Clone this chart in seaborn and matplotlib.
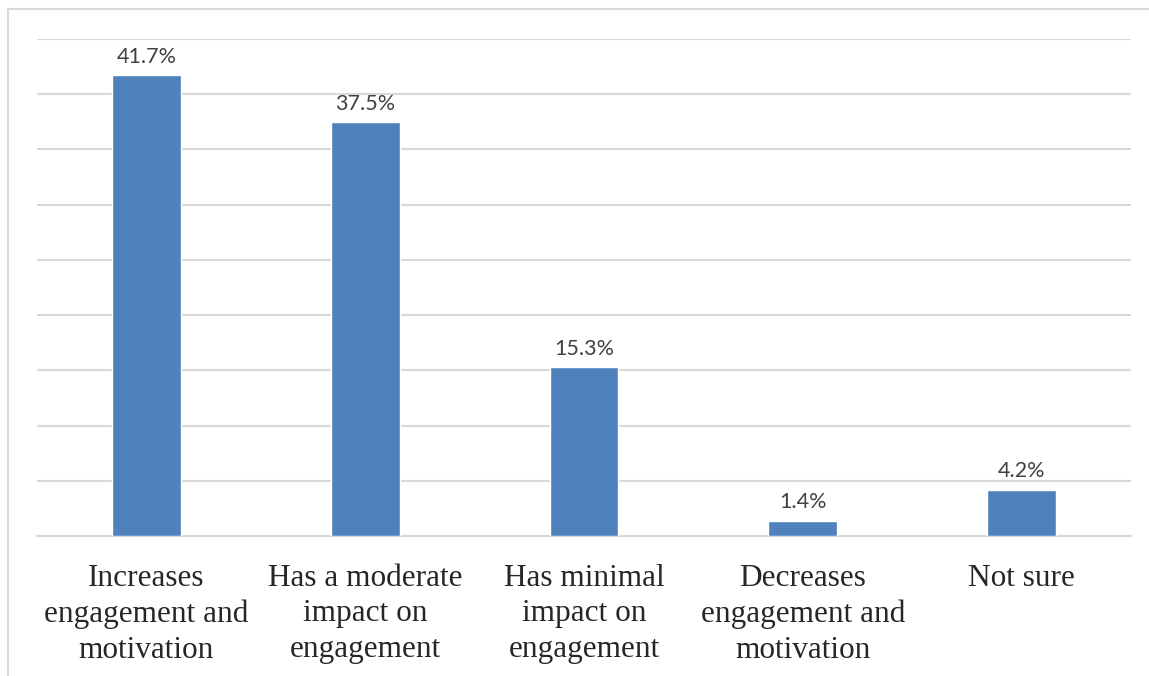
import seaborn as sns
import matplotlib.pyplot as plt
from matplotlib.lines import Line2D
import pandas as pd

# data
categories = [
    "Increases\nengagement and\nmotivation",
    "Has a moderate\nimpact on\nengagement",
    "Has minimal\nimpact on\nengagement",
    "Decreases\nengagement and\nmotivation",
    "Not sure",
]
values = [41.7, 37.5, 15.3, 1.4, 4.2]
gridlines = [0, 5, 10, 15, 20, 25, 30, 35, 40, 45]

df = pd.DataFrame({"category": categories, "value": values})

sns.set_style("white")
fig = plt.figure(figsize=(11.49, 6.76), dpi=100)
ax = fig.add_axes([0.0322, 0.2071, 0.9521, 0.7352])

sns.barplot(data=df, x="category", y="value", color="#4F81BD", width=0.315,
            saturation=1, ax=ax, zorder=3)

ax.set_ylim(0, 45)
ax.set_xlim(-0.5, 4.5)
ax.set_yticks(gridlines)
ax.set_yticklabels([])
ax.tick_params(axis="y", length=0)
ax.grid(axis="y", color="#D9D9D9", linewidth=1.5, zorder=0)
ax.set_axisbelow(True)
for s in ["top", "left", "right"]:
    ax.spines[s].set_visible(False)
ax.spines["bottom"].set_color("#D9D9D9")
ax.spines["bottom"].set_linewidth(1.5)

ax.set_xlabel("")
ax.set_ylabel("")
ax.tick_params(axis="x", length=0, pad=20)
for lbl in ax.get_xticklabels():
    lbl.set_fontfamily("Liberation Serif")
    lbl.set_fontsize(22.5)
    lbl.set_linespacing(1.3)
    lbl.set_verticalalignment("top")

# value labels
for i, v in enumerate(values):
    ax.annotate(f"{v}%", (i, v), xytext=(0, 6), textcoords="offset points",
                ha="center", va="bottom", fontsize=15.5, color="#404040",
                family="Lato")

# outer chart frame (cropped: only top and left edges visible)
fig.add_artist(Line2D([8 / 1149, 1.0], [1 - 9 / 676, 1 - 9 / 676],
                      transform=fig.transFigure, color="#D9D9D9", linewidth=1.5))
fig.add_artist(Line2D([8 / 1149, 8 / 1149], [0.0, 1 - 9 / 676],
                      transform=fig.transFigure, color="#D9D9D9", linewidth=1.5))

fig.savefig("out.png", dpi=100)
